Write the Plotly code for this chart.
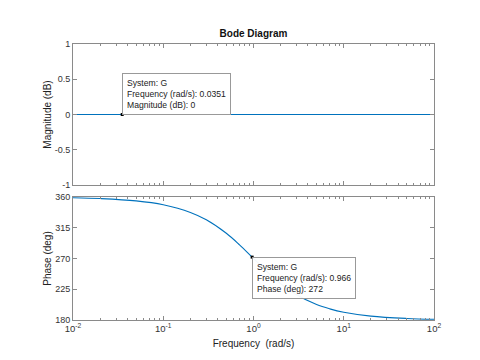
import plotly.graph_objects as go

freq_mag = [0.01, 0.0351, 1.0, 100.0]
mag_db = [0, 0, 0, 0]

freq_ph = [0.01, 0.02, 0.05, 0.1, 0.2, 0.3, 0.5, 0.7, 0.966, 1.5, 2, 3, 5, 7, 10, 20, 50, 100]
phase_deg = [358.9, 357.7, 354.3, 348.6, 337.4, 326.6, 306.9, 290.0, 272.0, 247.4, 233.1,
             216.9, 202.6, 196.3, 191.4, 185.7, 182.3, 181.1]

x_tickvals = [0.01, 0.1, 1, 10, 100]
x_ticktext = ["10<sup>-2</sup>", "10<sup>-1</sup>", "10<sup>0</sup>", "10<sup>1</sup>", "10<sup>2</sup>"]
mag_ticks = [-1, -0.5, 0, 0.5, 1]
phase_ticks = [180, 225, 270, 315, 360]

tip1 = (0.0351, 0)
tip2 = (0.966, 272)

OFF = 8  # page body margin
W, H = 480 - OFF, 360 - OFF
def px(x):
    return (x - OFF) / W
def py(y):
    return (H - (y - OFF)) / H

X0, X1 = 73, 434
axcol = "#8a8a8a"
txtcol = "#333333"
blue = "#0072BD"
font = "Liberation Sans, Arial, sans-serif"

fig = go.Figure()
fig.add_trace(go.Scatter(x=freq_mag, y=mag_db, mode="lines", line=dict(color=blue, width=1.1),
                         xaxis="x", yaxis="y", hoverinfo="skip"))
fig.add_trace(go.Scatter(x=freq_ph, y=phase_deg, mode="lines", line=dict(color=blue, width=1.1, shape="spline"),
                         xaxis="x2", yaxis="y2", hoverinfo="skip"))
fig.add_trace(go.Scatter(x=[tip1[0]], y=[tip1[1]], mode="markers",
                         marker=dict(symbol="square", size=3, color="black"), xaxis="x", yaxis="y"))
fig.add_trace(go.Scatter(x=[tip2[0]], y=[tip2[1]], mode="markers",
                         marker=dict(symbol="square", size=3, color="black"), xaxis="x2", yaxis="y2"))

common_x = dict(type="log", range=[-2, 2], tickvals=x_tickvals, ticktext=x_ticktext,
                ticks="inside", ticklen=4, tickcolor=axcol,
                showline=True, linecolor=axcol, linewidth=1, mirror="ticks", showgrid=False,
                zeroline=False, automargin=False,
                minor=dict(ticks="inside", ticklen=2, tickcolor=axcol, showgrid=False, dtick="D1"),
                domain=[px(X0), px(X1)], tickfont=dict(size=9.5, color=txtcol, family=font))

common_y = dict(ticks="inside", ticklen=4, tickcolor=axcol, showline=True, linecolor=axcol,
                mirror="ticks", showgrid=False, zeroline=False, automargin=False,
                tickfont=dict(size=9, color=txtcol))

fig.update_layout(
    width=W, height=H, margin=dict(l=0, r=0, t=0, b=0),
    paper_bgcolor="white", plot_bgcolor="white", showlegend=False,
    font=dict(family=font, color=txtcol),
    xaxis=dict(common_x, anchor="y", showticklabels=False),
    xaxis2=dict(common_x, anchor="y2", matches="x",
                title=dict(text="Frequency  (rad/s)", font=dict(size=10, color="#222"), standoff=6)),
    yaxis=dict(common_y, domain=[py(185), py(44)], range=[-1, 1], tickvals=mag_ticks,
               ticktext=["-1", "-0.5", "0", "0.5", "1"], anchor="x",
               title=dict(text="Magnitude (dB)", font=dict(size=10, color="#222"), standoff=1)),
    yaxis2=dict(common_y, domain=[py(320), py(197)], range=[180, 360], tickvals=phase_ticks,
                anchor="x2",
                title=dict(text="Phase (deg)", font=dict(size=10, color="#222"), standoff=1)),
    title=dict(text="<b>Bode Diagram</b>", x=px((X0 + X1) / 2), xanchor="center", y=py(33),
               yanchor="middle", font=dict(size=10, color="#111")),
)

boxfont = dict(size=8.6, color="#222", family=font)
fig.add_annotation(x=-1.4547, y=0, xref="x", yref="y", xanchor="left", yanchor="bottom",
                   text="System: G<br>Frequency (rad/s): 0.0351<br>Magnitude (dB): 0",
                   showarrow=False, align="left", bgcolor="rgba(255,255,255,0.95)",
                   bordercolor="#999", borderwidth=1, borderpad=4, font=boxfont)
fig.add_annotation(x=-0.015, y=272, xref="x2", yref="y2", xanchor="left", yanchor="top",
                   text="System: G<br>Frequency (rad/s): 0.966<br>Phase (deg): 272",
                   showarrow=False, align="left", bgcolor="rgba(255,255,255,0.95)",
                   bordercolor="#999", borderwidth=1, borderpad=4, font=boxfont)

fig.write_html("out.html")
